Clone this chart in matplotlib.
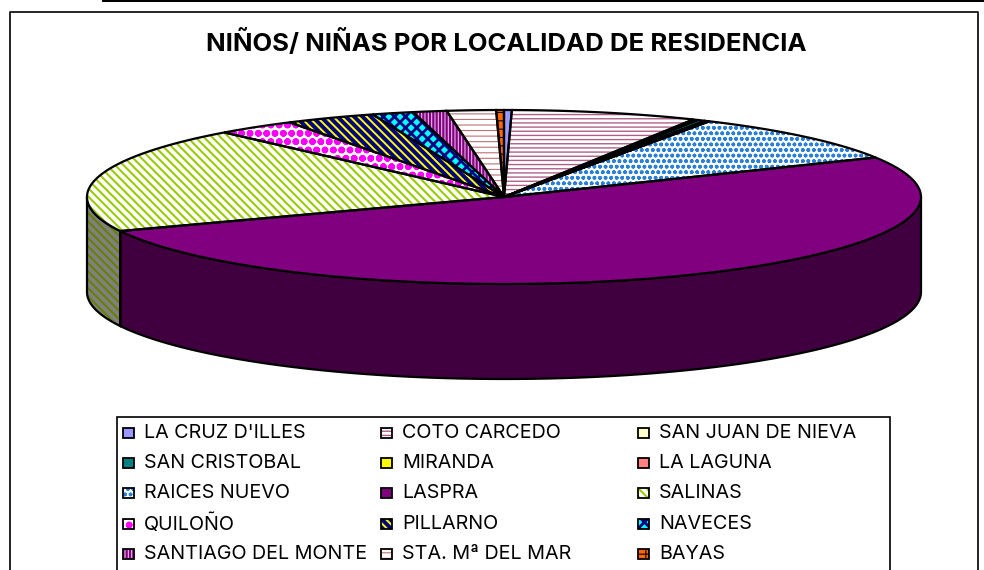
import numpy as np
import matplotlib
matplotlib.use('Agg')
import matplotlib.pyplot as plt
from matplotlib.patches import Polygon, Rectangle

plt.rcParams['font.family'] = ['Inter', 'Liberation Sans', 'DejaVu Sans']

title = 'NIÑOS/ NIÑAS POR LOCALIDAD DE RESIDENCIA'
localities = ['LA CRUZ D\'ILLES', 'COTO CARCEDO', 'SAN JUAN DE NIEVA', 'SAN CRISTOBAL', 'MIRANDA',
              'LA LAGUNA', 'RAICES NUEVO', 'LASPRA', 'SALINAS', 'QUILOÑO', 'PILLARNO', 'NAVECES',
              'SANTIAGO DEL MONTE', 'STA. Mª DEL MAR', 'BAYAS']
# share of the pie, in percent
shares = [0.3, 7.2, 0.2, 0.3, 0.15, 0.05, 9.3, 51.1, 19.7, 3.1, 3.5, 1.6, 1.3, 1.9, 0.3]

face = ['#9999ff', 'white', '#ffffcc', '#008080', '#ffff00', '#ff8080', 'white', '#800080',
        'white', 'white', '#000080', '#00ffff', '#800080', 'white', '#ff6600']
ink = ['#9999ff', '#b06088', '#ffffcc', '#008080', '#ffff00', '#ff8080', '#2a7fd8', '#800080',
       '#99cc00', '#ff00ff', '#ffff00', '#000080', '#e8b8e8', '#c07070', '#000000']
hatches = [None, '----', None, None, None, None, 'ooo', None, '\\\\\\\\', 'oo', '\\\\\\\\',
           'xxx', '|||||', '---', '++']
hatch_lw = [1, 1.0, 1, 1, 1, 1, 1.1, 1, 1.5, 2.4, 1.4, 2.0, 0.8, 0.8, 0.8]

cx, cy, a, b, depth = 504, 197, 417, 87, 95


def rim(t0, t1, n=120):
    # t is clockwise from 12 o'clock, in degrees
    t = np.radians(np.linspace(t0, t1, n))
    return np.column_stack([cx + a * np.sin(t), cy - b * np.cos(t)])


def patterned(ax, pts, fc, hc, hatch, hlw, zorder):
    ax.add_patch(Polygon(pts, closed=True, facecolor=fc, edgecolor='none', zorder=zorder))
    if hatch:
        h = Polygon(pts, closed=True, facecolor='none', edgecolor=hc, hatch=hatch, lw=0, zorder=zorder)
        h.set_hatch_linewidth(hlw)
        ax.add_patch(h)
    ax.add_patch(Polygon(pts, closed=True, facecolor='none', edgecolor='black', lw=1.6, zorder=zorder + 0.5))


fig = plt.figure(figsize=(9.84, 5.70), dpi=100)
ax = fig.add_axes([0, 0, 1, 1])
ax.set_xlim(0, 984)
ax.set_ylim(570, 0)
ax.axis('off')

# page rule and chart frame
ax.add_patch(Rectangle((102, -1), 890, 3, facecolor='black', edgecolor='none'))
ax.plot([10, 10, 978, 978], [571, 12, 12, 571], color='black', lw=1.2)

ends = np.cumsum(shares) / np.sum(shares) * 360
starts = np.concatenate([[0], ends[:-1]])

# side wall first, only the front half shows
for s, e, hc, hatch, hlw in zip(starts, ends, ink, hatches, hatch_lw):
    t0, t1 = max(s, 90), min(e, 270)
    if t1 <= t0:
        continue
    top = rim(t0, t1)
    wall = np.vstack([top, (top + [0, depth])[::-1]])
    if hc == '#99cc00':
        patterned(ax, wall, '#808080', '#668000', hatch, hlw, 2)
    else:
        patterned(ax, wall, '#400040', hc, None, hlw, 2)

for s, e, fc, hc, hatch, hlw in zip(starts, ends, face, ink, hatches, hatch_lw):
    pts = np.vstack([[cx, cy], rim(s, e)])
    patterned(ax, pts, fc, hc, hatch, hlw, 3)

ax.text(506, 42, title, ha='center', va='center', fontsize=18.5, fontweight='bold', color='black')

# legend
ax.add_patch(Rectangle((117, 417), 773, 160, facecolor='white', edgecolor='black', lw=1.2, zorder=4))
col_x = [122, 380, 637]
row_y = [433, 463, 493, 524, 554]
for i, name in enumerate(localities):
    x, y = col_x[i % 3], row_y[i // 3]
    box = Rectangle((x + 1, y - 5), 11, 10, facecolor=face[i], edgecolor=ink[i], hatch=hatches[i], lw=0, zorder=5)
    box.set_hatch_linewidth(hatch_lw[i])
    ax.add_patch(box)
    ax.add_patch(Rectangle((x + 1, y - 5), 11, 10, facecolor='none', edgecolor='black', lw=1.3, zorder=6))
    ax.text(x + 22, y, name, ha='left', va='center', fontsize=14.2, color='black', zorder=6)

fig.savefig('out.png', dpi=100)
